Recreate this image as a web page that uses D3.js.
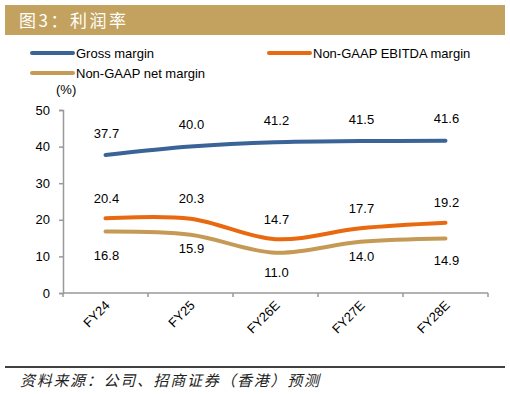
<!DOCTYPE html>
<html>
<head>
<meta charset="utf-8">
<script src="https://cdn.jsdelivr.net/npm/d3@7"></script>
<style>
  body { margin: 0; background: #fff; }
  text { font-family: "Liberation Sans", Arial, sans-serif; }
</style>
</head>
<body>
<div id="chart"></div>
<script>
// Chart data
const years = ["FY24", "FY25", "FY26E", "FY27E", "FY28E"];
const grossMargin = [37.7, 40.0, 41.2, 41.5, 41.6];
const ebitdaMargin = [20.4, 20.3, 14.7, 17.7, 19.2];
const netMargin = [16.8, 15.9, 11.0, 14.0, 14.9];
const yTicks = [0, 10, 20, 30, 40, 50];

// label offsets for the net margin row (placed by hand in the original)
const netLabelDy = [24, 14, 20, 15, 22];

const series = [
    { name: "Gross margin", values: grossMargin, color: "#3A6398", dy: () => -22 },
    { name: "Non-GAAP EBITDA margin", values: ebitdaMargin, color: "#E8690F", dy: () => -20 },
    { name: "Non-GAAP net margin", values: netMargin, color: "#C49A55", dy: i => netLabelDy[i] }
];

const W = 510, H = 394;
const svg = d3.select("#chart").append("svg")
    .attr("width", W)
    .attr("height", H);

// Title bar
svg.append("rect")
    .attr("x", 5).attr("y", 5)
    .attr("width", 500).attr("height", 30)
    .attr("fill", "#C2A25E");
svg.append("text")
    .attr("x", 19).attr("y", 27)
    .attr("fill", "#fff")
    .style("font-family", "'Noto Sans CJK SC', sans-serif")
    .style("font-size", "17px")
    .style("letter-spacing", "2.5px")
    .text("图3：利润率");

// Scales
const x = d3.scaleBand()
    .domain(years)
    .range([63, 488]);

const y = d3.scaleLinear()
    .domain([0, 50])
    .range([293, 110]);

// Y axis
const yAxis = svg.append("g")
    .attr("transform", "translate(63,0)")
    .call(d3.axisLeft(y).tickValues(yTicks).tickSize(4).tickPadding(9));
yAxis.select(".domain").attr("stroke", "#999").attr("stroke-width", 1.5);
yAxis.selectAll(".tick line").attr("stroke", "#999").attr("stroke-width", 1.5);
yAxis.selectAll(".tick text")
    .attr("fill", "#000")
    .style("font-family", "'Liberation Sans', Arial, sans-serif")
    .style("font-size", "13px");

// X axis: ticks at band boundaries
const xAxis = svg.append("g")
    .attr("transform", "translate(0,293)");
xAxis.append("line")
    .attr("x1", x.range()[0]).attr("x2", x.range()[1])
    .attr("stroke", "#999").attr("stroke-width", 1.5);
xAxis.selectAll(".bt")
    .data(years.map(d => x(d)).concat([x.range()[1]]))
    .enter().append("line")
    .attr("x1", d => d).attr("x2", d => d)
    .attr("y1", 0).attr("y2", 4)
    .attr("stroke", "#999").attr("stroke-width", 1.5);
xAxis.selectAll(".xl")
    .data(years)
    .enter().append("text")
    .attr("transform", d => "translate(" + (x(d) + x.bandwidth() / 2 + 2) + ",10) rotate(-45)")
    .attr("text-anchor", "end")
    .attr("dy", "0.35em")
    .style("font-size", "13px")
    .text(d => d);

// "(%)" unit
svg.append("text")
    .attr("x", 56).attr("y", 94)
    .style("font-size", "13px")
    .text("(%)");

// Lines
const line = d3.line()
    .x((d, i) => x(years[i]) + x.bandwidth() / 2)
    .y(d => y(d))
    .curve(d3.curveCardinal.tension(0));

series.forEach(s => {
    svg.append("path")
        .datum(s.values)
        .attr("fill", "none")
        .attr("stroke", s.color)
        .attr("stroke-width", 4)
        .attr("stroke-linecap", "round")
        .attr("d", line);

    svg.selectAll(null)
        .data(s.values)
        .enter().append("text")
        .attr("x", (d, i) => x(years[i]) + x.bandwidth() / 2 + 1)
        .attr("y", (d, i) => y(d) + s.dy(i))
        .attr("dy", "0.35em")
        .attr("text-anchor", "middle")
        .style("font-size", "13px")
        .text(d => d.toFixed(1));
});

// Legend
const legendPos = [[32, 53], [269, 53], [32, 73]];
series.forEach((s, i) => {
    const [lx, ly] = legendPos[i];
    svg.append("line")
        .attr("x1", lx).attr("x2", lx + 41)
        .attr("y1", ly).attr("y2", ly)
        .attr("stroke", s.color)
        .attr("stroke-width", 4)
        .attr("stroke-linecap", "round");
    svg.append("text")
        .attr("x", lx + 44).attr("y", ly)
        .attr("dy", "0.35em")
        .style("font-size", "13px")
        .text(s.name);
});

// Footer
svg.append("line")
    .attr("x1", 5).attr("x2", 505)
    .attr("y1", 367).attr("y2", 367)
    .attr("stroke", "#000").attr("stroke-width", 1.5);
svg.append("text")
    .attr("x", 20).attr("y", 386)
    .attr("fill", "#222")
    .style("font-family", "'Noto Sans CJK SC', sans-serif")
    .style("font-style", "italic")
    .style("font-size", "15px")
    .style("letter-spacing", "1.7px")
    .text("资料来源：公司、招商证券（香港）预测");
</script>
</body>
</html>
